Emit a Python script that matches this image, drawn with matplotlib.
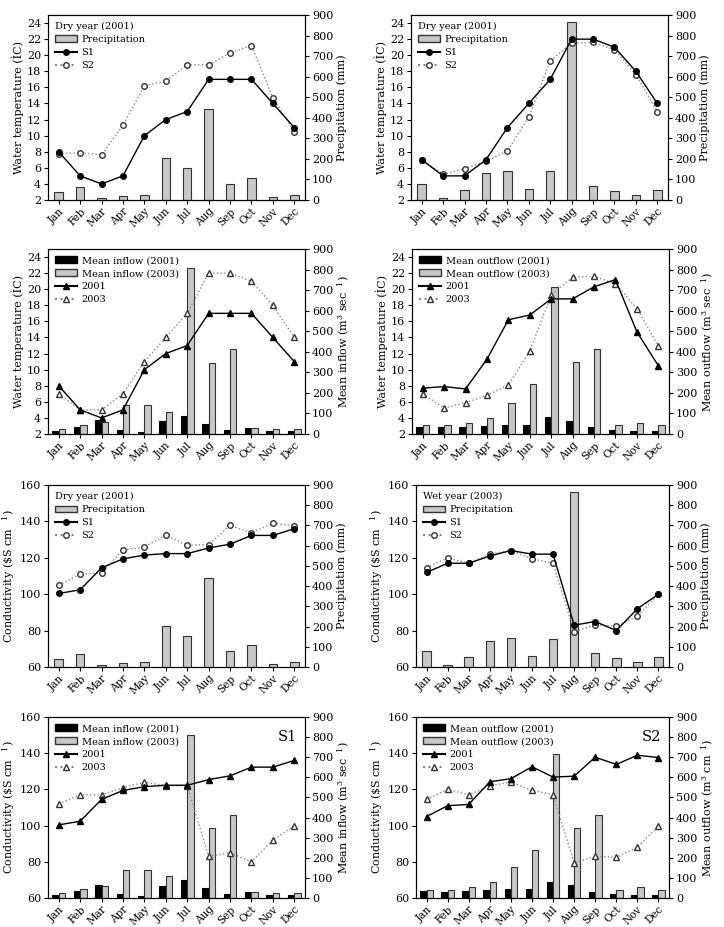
import matplotlib
matplotlib.use("Agg")
import matplotlib.pyplot as plt
import numpy as np
from matplotlib.patches import Patch
from matplotlib.lines import Line2D

plt.rcParams['font.family'] = ['DejaVu Serif']
plt.rcParams['mathtext.fontset'] = 'dejavuserif'

months = ["Jan", "Feb", "Mar", "Apr", "May", "Jun", "Jul", "Aug", "Sep", "Oct", "Nov", "Dec"]

# Precipitation (mm)
precip_dry = [40, 62, 9, 19, 23, 205, 155, 442, 80, 107, 13, 26]
precip_wet = [80, 8, 47, 130, 142, 55, 140, 865, 70, 43, 23, 51]

# Water temperature
temp_dry_s1 = [8, 5, 4, 5, 10, 12, 13, 17, 17, 17, 14, 11]
temp_dry_s2 = [7.7, 7.9, 7.6, 11.3, 16.2, 16.8, 18.8, 18.8, 20.3, 21.2, 14.7, 10.5]
temp_wet_s1 = [7, 5, 5, 7, 11, 14, 17, 22, 22, 21, 18, 14]
temp_wet_s2 = [7, 5.2, 5.9, 6.8, 8.1, 12.3, 19.3, 21.5, 21.6, 20.7, 17.6, 13]

# Flows (m3/s)
inflow_2001 = [15, 36, 67, 19, 8, 61, 88, 50, 21, 31, 17, 17]
inflow_2003 = [25, 44, 58, 139, 139, 107, 810, 346, 413, 29, 25, 25]
outflow_2001 = [36, 32, 33, 40, 43, 43, 82, 63, 32, 19, 17, 17]
outflow_2003 = [42, 42, 53, 80, 153, 241, 714, 350, 413, 42, 53, 42]

# Conductivity
cond_dry_s1 = [100.4, 102.4, 114.5, 119.4, 121.5, 122.3, 122.3, 125.4, 127.5, 132.3, 132.3, 136]
cond_dry_s2 = [105, 111, 111.7, 124.2, 125.9, 132.5, 126.8, 127.3, 137.8, 133.8, 138.9, 137.6]
cond_wet_s1 = [112, 117, 117, 121, 124, 122, 122, 83, 85, 80, 92, 100]
cond_wet_s2 = [114.5, 120, 117, 122, 124, 119.5, 117, 79.5, 83, 82.5, 88, 100]

W, H = 724, 927
fig = plt.figure(figsize=(W / 100, H / 100), dpi=100)

def ax_at(l, t, r, b):
    return fig.add_axes([l / W, 1 - b / H, (r - l) / W, (b - t) / H])

GRAY = "#c8c8c8"
x = np.arange(12)
FS = 8
XFS = 7.6
LFS = 8
LEGFS = 7

def style(ax, ax2):
    ax.set_xlim(-0.5, 11.5)
    ax.set_xticks(x)
    ax.set_xticklabels(months, rotation=45, ha="right", rotation_mode="anchor", fontsize=XFS)
    ax.tick_params(axis="y", labelsize=FS, direction="out", length=3, pad=2)
    ax.tick_params(axis="x", direction="out", length=3, pad=1.5)
    ax2.tick_params(axis="y", labelsize=FS, direction="out", length=3, pad=2)
    ax2.set_ylim(0, 900)
    ax2.set_yticks(range(0, 901, 100))
    ax.set_zorder(ax2.get_zorder() + 1)
    ax.patch.set_visible(False)

def line_s1(ax, vals, marker="o"):
    ax.plot(x, vals, "-", color="black", lw=1, marker=marker, ms=4, mfc="black", mec="black", zorder=5)

def line_s2(ax, vals, marker="o"):
    ax.plot(x, vals, ":", color="#888888", lw=1, marker=marker, ms=4, mfc="white", mec="#333333", zorder=4)

def precip_panel(rect, s1, s2, pr, title, ylabel, ylim, yticks):
    ax = ax_at(*rect)
    ax2 = ax.twinx()
    ax2.bar(x, pr, width=0.4, color=GRAY, edgecolor="#333333", lw=0.8)
    line_s1(ax, s1)
    line_s2(ax, s2)
    ax.set_ylim(*ylim)
    ax.set_yticks(yticks)
    style(ax, ax2)
    ax.set_ylabel(ylabel, fontsize=LFS, labelpad=2)
    ax2.set_ylabel("Precipitation (mm)", fontsize=LFS, labelpad=2)
    handles = [Patch(facecolor=GRAY, edgecolor="#333333", label="Precipitation"),
               Line2D([], [], color="black", marker="o", ms=4, label="S1"),
               Line2D([], [], color="#888888", ls=":", marker="o", ms=4, mfc="white", mec="#333333", label="S2")]
    leg = ax.legend(handles=handles, title=title, loc="upper left", frameon=False, fontsize=LEGFS,
                    title_fontsize=LEGFS, handlelength=2.2, borderaxespad=0.35, labelspacing=0.4,
                    handletextpad=0.5)
    leg._legend_box.align = "left"
    return ax, ax2

def flow_panel(rect, l1, l2, b1, b2, name, ylabel, y2label, ylim, yticks, tag=None):
    ax = ax_at(*rect)
    ax2 = ax.twinx()
    ax2.bar(x - 0.15, b1, width=0.3, color="black", edgecolor="black", lw=0.8)
    ax2.bar(x + 0.15, b2, width=0.3, color=GRAY, edgecolor="#333333", lw=0.8)
    line_s1(ax, l1, marker="^")
    line_s2(ax, l2, marker="^")
    ax.set_ylim(*ylim)
    ax.set_yticks(yticks)
    style(ax, ax2)
    ax.set_ylabel(ylabel, fontsize=LFS, labelpad=2)
    ax2.set_ylabel(y2label, fontsize=LFS, labelpad=2)
    handles = [Patch(facecolor="black", edgecolor="black", label=f"Mean {name} (2001)"),
               Patch(facecolor=GRAY, edgecolor="#333333", label=f"Mean {name} (2003)"),
               Line2D([], [], color="black", marker="^", ms=4, label="2001"),
               Line2D([], [], color="#888888", ls=":", marker="^", ms=4, mfc="white", mec="#333333", label="2003")]
    ax.legend(handles=handles, loc="upper left", frameon=False, fontsize=LEGFS,
              handlelength=2.2, borderaxespad=0.35, labelspacing=0.4, handletextpad=0.5)
    if tag:
        ax.text(0.97, 0.93, tag, transform=ax.transAxes, ha="right", va="top", fontsize=10.5)
    return ax, ax2

TLAB = "Water temperature (ÌC)"
CLAB = r"Conductivity (\$S cm $^{\ \ 1}$)"
tyl, tyt = (2, 25), range(2, 25, 2)
cyl, cyt = (60, 160), range(60, 161, 20)

precip_panel((48, 15, 305, 200), temp_dry_s1, temp_dry_s2, precip_dry, "Dry year (2001)", TLAB, tyl, tyt)
precip_panel((411, 15, 668, 200), temp_wet_s1, temp_wet_s2, precip_wet, "Dry year (2001)", TLAB, tyl, tyt)

flow_panel((48, 249, 305, 434), temp_dry_s1, temp_wet_s1, inflow_2001, inflow_2003, "inflow",
           TLAB, r"Mean inflow (m$^{3}$ sec $^{\ 1}$)", tyl, tyt)
flow_panel((412, 249, 669, 434), temp_dry_s2, temp_wet_s2, outflow_2001, outflow_2003, "outflow",
           TLAB, r"Mean outflow (m$^{3}$ sec $^{\ 1}$)", tyl, tyt)

precip_panel((48, 485, 305, 667), cond_dry_s1, cond_dry_s2, precip_dry, "Dry year (2001)", CLAB, cyl, cyt)
precip_panel((416, 485, 669, 667), cond_wet_s1, cond_wet_s2, precip_wet, "Wet year (2003)", CLAB, cyl, cyt)

flow_panel((48, 717, 305, 898), cond_dry_s1, cond_wet_s1, inflow_2001, inflow_2003, "inflow",
           CLAB, r"Mean inflow (m$^{3}$ sec $^{\ 1}$)", cyl, cyt, tag="S1")
flow_panel((416, 717, 669, 898), cond_dry_s2, cond_wet_s2, outflow_2001, outflow_2003, "outflow",
           CLAB, r"Mean outflow (m$^{3}$ cm $^{\ 1}$)", cyl, cyt, tag="S2")

fig.savefig("out.png", dpi=100)
